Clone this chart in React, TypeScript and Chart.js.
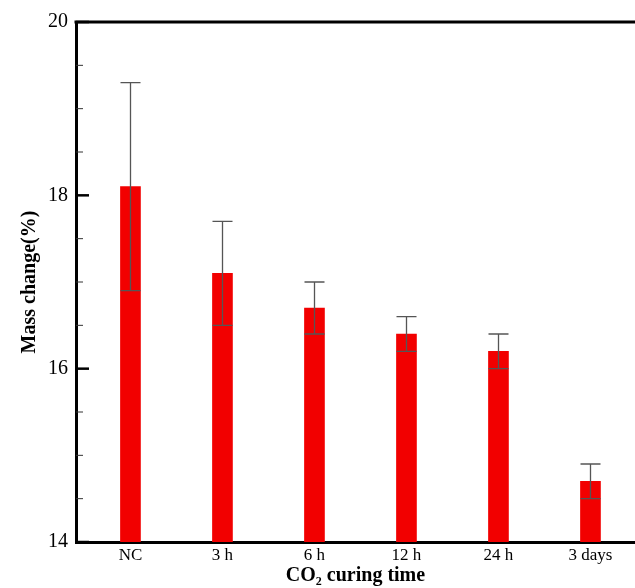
import React, { useEffect, useRef } from 'react';
import { Chart, registerables } from 'chart.js';
Chart.register(...registerables);

const categories = ['NC', '3 h', '6 h', '12 h', '24 h', '3 days'];
const massChange = [18.1, 17.1, 16.7, 16.4, 16.2, 14.7];
const errorValues = [1.2, 0.6, 0.3, 0.2, 0.2, 0.2];
const yLabeledTicks = [14, 16, 18, 20];
const yMin = 14;
const yMax = 20;

export default function App() {
  const ref = useRef<HTMLCanvasElement>(null);
  useEffect(() => {
    if (!ref.current) return;
    const overlay = {
      id: 'overlay',
      afterDatasetsDraw(chart: any) {
        const { ctx, scales: { x, y }, chartArea: a } = chart;
        ctx.save();
        // error bars
        ctx.strokeStyle = '#555';
        ctx.lineWidth = 1.3;
        massChange.forEach((v, i) => {
          const px = Math.round(x.getPixelForValue(i)) + 0.5;
          const top = y.getPixelForValue(v + errorValues[i]);
          const bot = y.getPixelForValue(v - errorValues[i]);
          ctx.beginPath();
          ctx.moveTo(px, top);
          ctx.lineTo(px, bot);
          ctx.moveTo(px - 10, top);
          ctx.lineTo(px + 10, top);
          ctx.moveTo(px - 10, bot);
          ctx.lineTo(px + 10, bot);
          ctx.stroke();
        });
        // top frame line
        ctx.strokeStyle = '#000';
        ctx.lineWidth = 3;
        ctx.beginPath();
        ctx.moveTo(a.left - 1.5, a.top);
        ctx.lineTo(a.right, a.top);
        ctx.stroke();
        // inward y ticks
        y.ticks.forEach((t: any) => {
          const py = y.getPixelForValue(t.value);
          const major = yLabeledTicks.includes(t.value);
          ctx.lineWidth = major ? 2.5 : 1;
          ctx.strokeStyle = major ? '#000' : '#333';
          ctx.beginPath();
          ctx.moveTo(a.left, py);
          ctx.lineTo(a.left + (major ? 13 : 7), py);
          ctx.stroke();
        });
        ctx.restore();
      },
    };
    const chart = new Chart(ref.current, {
      type: 'bar',
      data: {
        datasets: [
          {
            data: massChange.map((v, i) => ({ x: i, y: v })),
            backgroundColor: '#f20000',
            borderWidth: 0,
            barThickness: 20,
          },
        ],
      },
      options: {
        animation: false,
        responsive: false,
        layout: { padding: { top: 22, right: 0, left: 0, bottom: 0 } },
        plugins: { legend: { display: false }, tooltip: { enabled: false } },
        scales: {
          x: {
            type: 'linear',
            offset: false,
            min: -0.592,
            max: 5.484,
            afterFit: (s: any) => { s.height = 46; },
            afterBuildTicks: (s: any) => { s.ticks = categories.map((_, i) => ({ value: i })); },
            grid: { display: false, drawTicks: false, offset: false },
            border: { display: true, color: '#000', width: 3 },
            ticks: {
              padding: 3,
              color: '#000',
              font: { family: 'Liberation Serif', size: 17 },
              callback: (v: any) => categories[v] ?? '',
            },
            title: {
              display: true,
              text: 'CO₂ curing time',
              color: '#000',
              font: { family: 'Liberation Serif', size: 20, weight: 'bold' },
              padding: { top: 0, bottom: 0 },
            },
          },
          y: {
            type: 'linear',
            min: yMin,
            max: yMax,
            afterFit: (s: any) => { s.width = 76; },
            grid: { display: false, drawTicks: false },
            border: { display: true, color: '#000', width: 3 },
            ticks: {
              stepSize: 0.5,
              padding: 8,
              color: '#000',
              font: { family: 'Liberation Serif', size: 20 },
              callback: (v: any) => (yLabeledTicks.includes(v) ? String(v) : ''),
            },
            title: {
              display: true,
              text: 'Mass change(%)',
              color: '#000',
              font: { family: 'Liberation Serif', size: 20, weight: 'bold' },
              padding: { top: 18, bottom: 0 },
            },
          },
        },
      },
      plugins: [overlay],
    });
    return () => chart.destroy();
  }, []);
  return (
    <div style={{ position: 'fixed', left: 0, top: 0, width: 635, height: 588, background: '#fff' }}>
      <canvas ref={ref} width={635} height={588} style={{ display: 'block' }} />
    </div>
  );
}
